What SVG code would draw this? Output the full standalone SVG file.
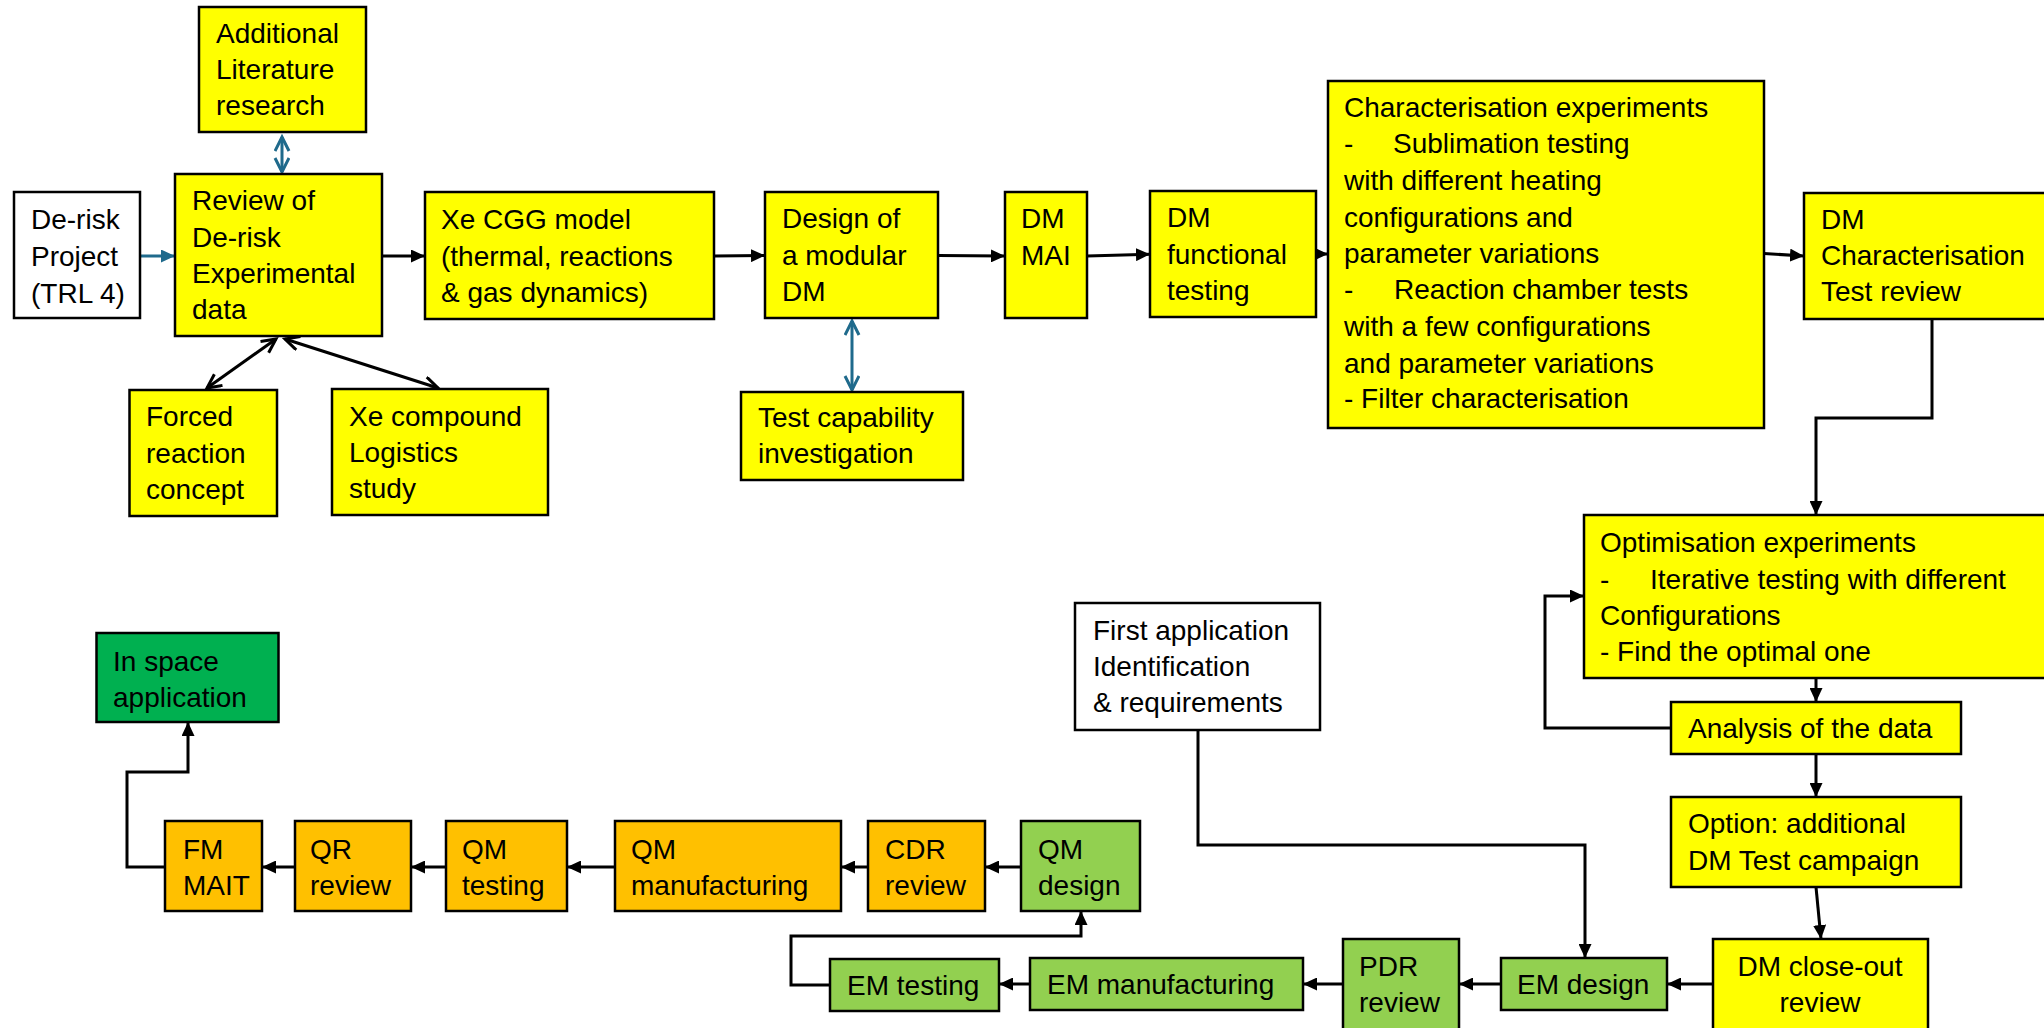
<svg xmlns="http://www.w3.org/2000/svg" width="2044" height="1028" viewBox="0 0 2044 1028">
<style>
.box{stroke:#000;stroke-width:2.5}
.y{fill:#FFFF00}
.w{fill:#FFFFFF}
.o{fill:#FFC000}
.lg{fill:#92D050}
.g{fill:#00B050}
text{font-family:"Liberation Sans",Arial,sans-serif;font-size:28px;fill:#000}
.c{fill:none;stroke:#000;stroke-width:3}
.b{fill:none;stroke:#1F6A8C;stroke-width:3}
</style>
<defs>
<marker id="ak" markerUnits="userSpaceOnUse" markerWidth="15" markerHeight="13" refX="14" refY="6.5" orient="auto"><path d="M0,0 L14,6.5 L0,13 z" fill="#000"/></marker>
<marker id="ab" markerUnits="userSpaceOnUse" markerWidth="15" markerHeight="13" refX="14" refY="6.5" orient="auto"><path d="M0,0 L14,6.5 L0,13 z" fill="#1F6A8C"/></marker>
<marker id="vb" markerUnits="userSpaceOnUse" markerWidth="18" markerHeight="18" refX="15" refY="8" orient="auto-start-reverse"><path d="M1,1 L15,8 L1,15" fill="none" stroke="#1F6A8C" stroke-width="3"/></marker>
<marker id="vk" markerUnits="userSpaceOnUse" markerWidth="18" markerHeight="18" refX="15" refY="8" orient="auto-start-reverse"><path d="M1,1 L15,8 L1,15" fill="none" stroke="#000" stroke-width="3"/></marker>
</defs>

<g id="connectors">
<line class="b" x1="282" y1="137" x2="282" y2="172" marker-start="url(#vb)" marker-end="url(#vb)"/>
<line class="b" x1="140" y1="256" x2="175" y2="256" marker-end="url(#ab)"/>
<line class="b" x1="852" y1="321" x2="852" y2="390" marker-start="url(#vb)" marker-end="url(#vb)"/>
<line class="c" x1="276" y1="339" x2="207" y2="388" marker-start="url(#vk)" marker-end="url(#vk)"/>
<line class="c" x1="285" y1="339" x2="438" y2="388" marker-start="url(#vk)" marker-end="url(#vk)"/>
<line class="c" x1="382" y1="256" x2="425" y2="256" marker-end="url(#ak)"/>
<line class="c" x1="714" y1="256" x2="765" y2="255.5" marker-end="url(#ak)"/>
<line class="c" x1="938" y1="255.5" x2="1005" y2="256" marker-end="url(#ak)"/>
<line class="c" x1="1087" y1="256" x2="1150" y2="254.3" marker-end="url(#ak)"/>
<line class="c" x1="1316" y1="254" x2="1328" y2="254" marker-end="url(#ak)"/>
<line class="c" x1="1764" y1="253.5" x2="1804" y2="256" marker-end="url(#ak)"/>
<polyline class="c" points="1932,319 1932,418 1816,418 1816,515" marker-end="url(#ak)"/>
<line class="c" x1="1816" y1="678" x2="1816" y2="702" marker-end="url(#ak)"/>
<polyline class="c" points="1671,728 1545,728 1545,596 1584,596" marker-end="url(#ak)"/>
<line class="c" x1="1816" y1="754" x2="1816" y2="797" marker-end="url(#ak)"/>
<line class="c" x1="1816" y1="887" x2="1821" y2="939" marker-end="url(#ak)"/>
<line class="c" x1="1713" y1="984" x2="1667" y2="984" marker-end="url(#ak)"/>
<polyline class="c" points="1198,730 1198,845 1585,845 1585,958" marker-end="url(#ak)"/>
<line class="c" x1="1501" y1="984" x2="1459" y2="984" marker-end="url(#ak)"/>
<line class="c" x1="1343" y1="984" x2="1303" y2="984" marker-end="url(#ak)"/>
<line class="c" x1="1030" y1="984" x2="999" y2="984" marker-end="url(#ak)"/>
<polyline class="c" points="830,985 791,985 791,936 1081,936 1081,911" marker-end="url(#ak)"/>
<line class="c" x1="1021" y1="867" x2="985" y2="867" marker-end="url(#ak)"/>
<line class="c" x1="868" y1="867" x2="841" y2="867" marker-end="url(#ak)"/>
<line class="c" x1="615" y1="867" x2="567" y2="867" marker-end="url(#ak)"/>
<line class="c" x1="446" y1="867" x2="411" y2="867" marker-end="url(#ak)"/>
<line class="c" x1="295" y1="867" x2="262" y2="867" marker-end="url(#ak)"/>
<polyline class="c" points="165,867 127,867 127,772 188,772 188,722" marker-end="url(#ak)"/>
</g>

<g id="additional"><rect class="box y" x="199" y="7" width="167" height="125"/>
<text x="216" y="43">Additional</text><text x="216" y="79">Literature</text><text x="216" y="115">research</text></g>

<g id="derisk"><rect class="box w" x="14" y="192" width="126" height="126"/>
<text x="31" y="229">De-risk</text><text x="31" y="266">Project</text><text x="31" y="303">(TRL 4)</text></g>

<g id="review"><rect class="box y" x="175" y="174" width="207" height="162"/>
<text x="192" y="210">Review of</text><text x="192" y="247">De-risk</text><text x="192" y="283">Experimental</text><text x="192" y="319">data</text></g>

<g id="xecgg"><rect class="box y" x="425" y="192" width="289" height="127"/>
<text x="441" y="229">Xe CGG model</text><text x="441" y="266">(thermal, reactions</text><text x="441" y="302">&amp; gas dynamics)</text></g>

<g id="design"><rect class="box y" x="765" y="192" width="173" height="126"/>
<text x="782" y="228">Design of</text><text x="782" y="265">a modular</text><text x="782" y="301">DM</text></g>

<g id="mai"><rect class="box y" x="1005" y="192" width="82" height="126"/>
<text x="1021" y="228">DM</text><text x="1021" y="265">MAI</text></g>

<g id="functional"><rect class="box y" x="1150" y="191" width="166" height="126"/>
<text x="1167" y="227">DM</text><text x="1167" y="264">functional</text><text x="1167" y="300">testing</text></g>

<g id="characterisation"><rect class="box y" x="1328" y="81" width="436" height="347"/>
<text x="1344" y="117">Characterisation  experiments</text>
<text x="1344" y="153">-</text><text x="1393" y="153">Sublimation testing</text>
<text x="1344" y="190">with different heating</text>
<text x="1344" y="227">configurations and</text>
<text x="1344" y="263">parameter variations</text>
<text x="1344" y="299">-</text><text x="1394" y="299">Reaction chamber tests</text>
<text x="1344" y="336">with a few configurations</text>
<text x="1344" y="373">and parameter variations</text>
<text x="1344" y="408">- Filter characterisation</text></g>

<g id="dmchar"><rect class="box y" x="1804" y="193" width="260" height="126"/>
<text x="1821" y="229">DM</text><text x="1821" y="265">Characterisation</text><text x="1821" y="301">Test review</text></g>

<g id="forced"><rect class="box y" x="129.5" y="390" width="147.5" height="126"/>
<text x="146" y="426">Forced</text><text x="146" y="463">reaction</text><text x="146" y="499">concept</text></g>

<g id="xecompound"><rect class="box y" x="332" y="389" width="216" height="126"/>
<text x="349" y="426">Xe compound</text><text x="349" y="462">Logistics</text><text x="349" y="498">study</text></g>

<g id="testcap"><rect class="box y" x="741" y="392" width="222" height="88"/>
<text x="758" y="427">Test capability</text><text x="758" y="463">investigation</text></g>

<g id="optimisation"><rect class="box y" x="1584" y="515" width="480" height="163"/>
<text x="1600" y="552">Optimisation experiments</text>
<text x="1600" y="589">-</text><text x="1650" y="589">Iterative testing with different</text>
<text x="1600" y="625">Configurations</text>
<text x="1600" y="661">- Find the optimal one</text></g>

<g id="analysis"><rect class="box y" x="1671" y="702" width="290" height="52"/>
<text x="1688" y="738">Analysis of the data</text></g>

<g id="option"><rect class="box y" x="1671" y="797" width="290" height="90"/>
<text x="1688" y="833">Option: additional</text><text x="1688" y="870">DM Test campaign</text></g>

<g id="closeout"><rect class="box y" x="1713" y="939" width="215" height="100"/>
<text x="1820" y="976" text-anchor="middle">DM close-out</text><text x="1820" y="1012" text-anchor="middle">review</text></g>

<g id="emdesign"><rect class="box lg" x="1501" y="958" width="166" height="52"/>
<text x="1517" y="994">EM design</text></g>

<g id="pdr"><rect class="box lg" x="1343" y="939" width="116" height="100"/>
<text x="1359" y="976">PDR</text><text x="1359" y="1012">review</text></g>

<g id="emmanufacturing"><rect class="box lg" x="1030" y="958" width="273" height="52"/>
<text x="1047" y="994">EM manufacturing</text></g>

<g id="emtesting"><rect class="box lg" x="830" y="959" width="169" height="52"/>
<text x="847" y="995">EM testing</text></g>

<g id="qmdesign"><rect class="box lg" x="1021" y="821" width="119" height="90"/>
<text x="1038" y="859">QM</text><text x="1038" y="895">design</text></g>

<g id="cdr"><rect class="box o" x="868" y="821" width="117" height="90"/>
<text x="885" y="859">CDR</text><text x="885" y="895">review</text></g>

<g id="qmmanufacturing"><rect class="box o" x="615" y="821" width="226" height="90"/>
<text x="631" y="859">QM</text><text x="631" y="895">manufacturing</text></g>

<g id="qmtesting"><rect class="box o" x="446" y="821" width="121" height="90"/>
<text x="462" y="859">QM</text><text x="462" y="895">testing</text></g>

<g id="qr"><rect class="box o" x="295" y="821" width="116" height="90"/>
<text x="310" y="859">QR</text><text x="310" y="895">review</text></g>

<g id="fm"><rect class="box o" x="165" y="821" width="97" height="90"/>
<text x="183" y="859">FM</text><text x="183" y="895">MAIT</text></g>

<g id="inspace"><rect class="box g" x="96.5" y="633" width="182" height="89"/>
<text x="113" y="671">In space</text><text x="113" y="707">application</text></g>

<g id="firstapp"><rect class="box w" x="1075" y="603" width="245" height="127"/>
<text x="1093" y="640">First application</text><text x="1093" y="676">Identification</text><text x="1093" y="712">&amp; requirements</text></g>
</svg>
